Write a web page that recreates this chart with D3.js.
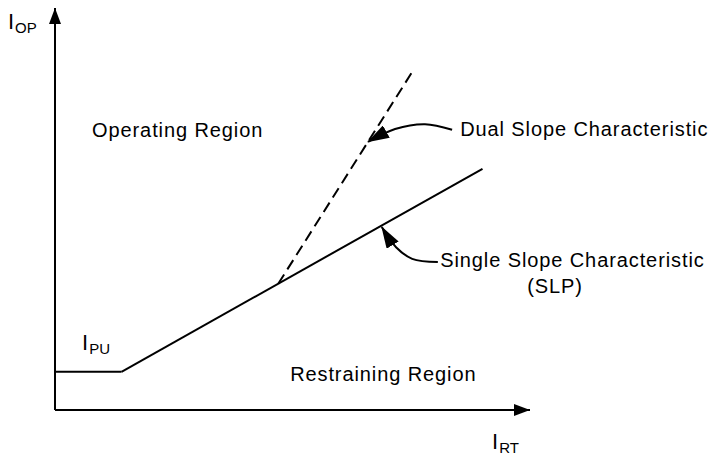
<!DOCTYPE html>
<html><head><meta charset="utf-8">
<script src="https://cdn.jsdelivr.net/npm/d3@7"></script>
<style>
html,body{margin:0;padding:0;background:#fff;}
svg text{font-family:"Liberation Sans",Arial,Helvetica,sans-serif;fill:#000;}
</style></head>
<body>
<svg id="c" width="713" height="456"></svg>
<script>
// Data (abstract units: restraint current on x, operate current on y)
const pickupLine   = [[0, 0.95], [1.4, 0.95]];             // I_PU flat segment
const singleSlope  = [[1.4, 0.95], [9.0, 6.0]];            // SLP line
const dualSlope    = [[4.7, 3.14], [7.52, 8.41]];          // second slope (dashed)
const dualArrow    = [[8.36, 6.97], [7.79, 7.11], [7.16, 6.99], [6.59, 6.67]];
const singleArrow  = [[8.06, 3.68], [7.52, 3.76], [7.18, 4.05], [6.88, 4.55]];
const labels = [
  {text: "Operating Region", x: 0.78, y: 6.79},
  {text: "Dual Slope Characteristic", x: 8.53, y: 6.82},
  {text: "Single Slope Characteristic", x: 8.11, y: 3.56},
  {text: "(SLP)", x: 9.94, y: 2.91},
  {text: "Restraining Region", x: 4.95, y: 0.72}
];
const axisLabels = [
  {main: "I", sub: "OP", x: -0.99, y: 9.48},
  {main: "I", sub: "RT", x: 9.2, y: -0.97},
  {main: "I", sub: "PU", x: 0.57, y: 1.49}
];

const svg = d3.select("#c");
const x = d3.scaleLinear().domain([0, 10]).range([55, 530]);
const y = d3.scaleLinear().domain([0, 10]).range([410, 8]);

const defs = svg.append("defs");
defs.append("marker").attr("id", "axisHead")
  .attr("viewBox", "0 0 16 12").attr("refX", 16).attr("refY", 6)
  .attr("markerWidth", 16).attr("markerHeight", 12)
  .attr("markerUnits", "userSpaceOnUse").attr("orient", "auto")
  .append("path").attr("d", "M0,0 L16,6 L0,12 Z").attr("fill", "#000");
defs.append("marker").attr("id", "annHead")
  .attr("viewBox", "0 0 22 14").attr("refX", 21).attr("refY", 7)
  .attr("markerWidth", 22).attr("markerHeight", 14)
  .attr("markerUnits", "userSpaceOnUse").attr("orient", "auto")
  .append("path").attr("d", "M0,0 L22,7 L0,14 Z").attr("fill", "#000");

// Axes (no ticks)
const axisG = svg.append("g");
axisG.append("line")
  .attr("x1", x(0)).attr("y1", y(0)).attr("x2", x(10)).attr("y2", y(0))
  .attr("stroke", "#000").attr("stroke-width", 2).attr("marker-end", "url(#axisHead)");
axisG.append("line")
  .attr("x1", x(0)).attr("y1", y(0)).attr("x2", x(0)).attr("y2", y(10))
  .attr("stroke", "#000").attr("stroke-width", 2).attr("marker-end", "url(#axisHead)");

const line = d3.line().x(d => x(d[0])).y(d => y(d[1]));

svg.append("path").attr("d", line(pickupLine)).attr("fill", "none")
  .attr("stroke", "#000").attr("stroke-width", 2);
svg.append("path").attr("d", line(singleSlope)).attr("fill", "none")
  .attr("stroke", "#000").attr("stroke-width", 2);
svg.append("path").attr("d", line(dualSlope)).attr("fill", "none")
  .attr("stroke", "#000").attr("stroke-width", 2).attr("stroke-dasharray", "11,6");

const curve = d3.line().x(d => x(d[0])).y(d => y(d[1])).curve(d3.curveCatmullRom.alpha(0.5));
[dualArrow, singleArrow].forEach(pts => {
  svg.append("path").attr("d", curve(pts)).attr("fill", "none")
    .attr("stroke", "#000").attr("stroke-width", 2).attr("marker-end", "url(#annHead)");
});

svg.selectAll("text.lbl").data(labels).enter().append("text")
  .attr("class", "lbl")
  .attr("x", d => x(d.x)).attr("y", d => y(d.y))
  .attr("font-size", 20).attr("letter-spacing", 0.9)
  .text(d => d.text);

axisLabels.forEach(d => {
  const t = svg.append("text").attr("x", x(d.x)).attr("y", y(d.y)).attr("font-size", 22);
  t.append("tspan").text(d.main);
  t.append("tspan").attr("font-size", 15).attr("dy", 4).attr("dx", 1).text(d.sub);
});
</script>
</body></html>
